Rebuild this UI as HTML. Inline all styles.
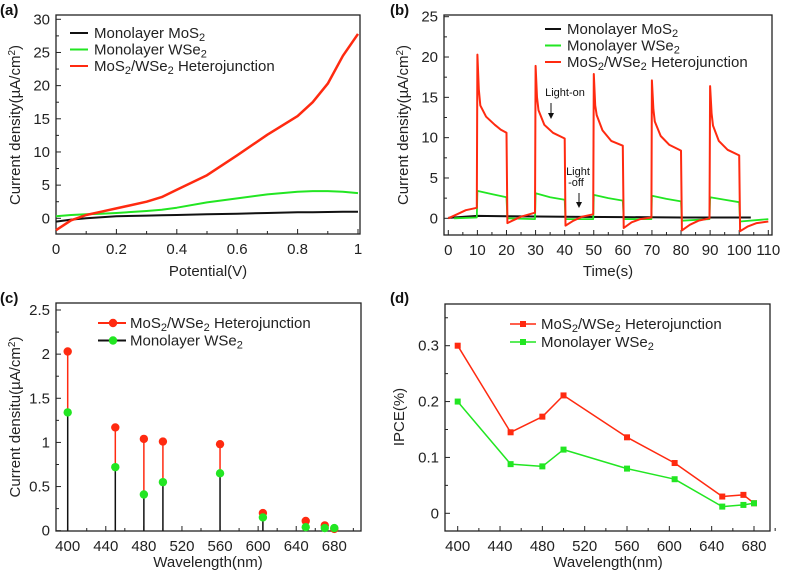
<!DOCTYPE html>
<html><head><meta charset="utf-8"><style>
body{margin:0;background:#fff}
svg{display:block;font-family:"Liberation Sans",Arial,sans-serif}
</style></head><body>
<svg id="fig" width="785" height="578" viewBox="0 0 785 578"></svg>
<script>
// Panel (a) data
const aX = [0,0.05,0.1,0.15,0.2,0.3,0.35,0.4,0.5,0.6,0.7,0.8,0.85,0.9,0.95,1.0];
const aMoS2 = [-0.5,-0.2,0,0.15,0.3,0.4,0.45,0.5,0.6,0.7,0.8,0.9,0.9,0.95,1.0,1.0];
const aWSe2 = [0.3,0.5,0.6,0.7,0.8,1.1,1.3,1.6,2.4,3.0,3.6,4.0,4.1,4.1,4.0,3.8];
const aHetero = [-1.8,-0.3,0.5,1.0,1.5,2.5,3.2,4.3,6.5,9.5,12.6,15.4,17.5,20.3,24.5,27.8];
const aYTicks = [0,5,10,15,20,25,30];
const aXTicks = [0,0.2,0.4,0.6,0.8,1];
// Panel (b) data
const bRedT = [0,3,6,9.8,10,10.5,11,13,16,18,20,20.3,22,25,29.8,30,30.5,31,33,36,40,40.3,43,46,49.8,50,50.5,51,53,56,60,60.3,63,66,69.8,70,70.5,71,73,76,80,80.3,83,86,89.8,90,90.5,91,93,96,100,100.3,103,106,110];
const bRedV = [0,0.5,1.0,1.3,20.3,16,14,12.6,11.6,11.0,10.6,-0.6,-0.3,0.2,0.7,18.9,15,13.4,11.6,10.6,9.9,-0.9,-0.3,0.2,0.5,17.9,14,12.8,10.9,9.6,9.0,-1.2,-0.5,-0.1,0.1,17.1,13.5,12,10.2,9.1,8.4,-1.5,-0.8,-0.3,0,16.4,13,11.5,9.6,8.5,7.8,-1.6,-1.0,-0.6,-0.4];
const bGreenT = [2,9.8,10,15,20,20.3,29.8,30,35,40,40.3,49.8,50,55,60,60.3,69.8,70,75,80,80.3,89.8,90,95,100,100.3,110];
const bGreenV = [0,0.1,3.4,3.0,2.6,0,-0.1,3.1,2.6,2.3,-0.1,-0.1,2.9,2.5,2.2,-0.1,-0.1,2.8,2.4,2.1,-0.3,-0.1,2.6,2.3,2.0,-0.4,-0.1];
const bBlackT = [0,10,20,40,60,80,104];
const bBlackV = [0.05,0.3,0.25,0.2,0.15,0.1,0.1];
const bYTicks = [0,5,10,15,20,25];
const bXTicks = [0,10,20,30,40,50,60,70,80,90,100,110];
// Panel (c) data
const cWave = [400,450,480,500,560,605,650,670,680];
const cHetero = [2.03,1.17,1.04,1.01,0.98,0.20,0.11,0.06,0.02];
const cWSe2 = [1.34,0.72,0.41,0.55,0.65,0.15,0.04,0.03,0.03];
const cYTicks = [0,0.5,1,1.5,2,2.5];
const cXTicks = [400,440,480,520,560,600,640,680];
// Panel (d) data
const dWave = [400,450,480,500,560,605,650,670,680];
const dHetero = [0.30,0.145,0.173,0.211,0.136,0.090,0.030,0.033,0.018];
const dWSe2 = [0.20,0.088,0.084,0.114,0.080,0.061,0.012,0.015,0.018];
const dYTicks = [0,0.1,0.2,0.3];
const dXTicks = [400,440,480,520,560,600,640,680];

const NS='http://www.w3.org/2000/svg';
const svg=document.getElementById('fig');
function el(tag,attrs,parent,text){const e=document.createElementNS(NS,tag);for(const k in attrs)e.setAttribute(k,attrs[k]);if(text!==undefined)e.textContent=text;(parent||svg).appendChild(e);return e;}
function lin(d0,d1,r0,r1){return v=>r0+(v-d0)/(d1-d0)*(r1-r0);}
const RED='#ff2a10', GREEN='#22e622';

function axes(g,box,sx,sy,xt,yt,xfmt,yfmt,xminor,yminor){
  const fr=el('rect',{x:box.l,y:box.t,width:box.r-box.l,height:box.b-box.t,fill:'none',stroke:'#222','stroke-width':1.3},g);
  
  xt.forEach(v=>{const x=sx(v);el('line',{x1:x,x2:x,y1:box.b,y2:box.b-5,stroke:'#222'},g);
    const t=el('text',{x:x,y:box.b+20,'text-anchor':'middle','font-size':15,fill:'#222'},g,xfmt(v));
    });
  xminor.forEach(v=>{const x=sx(v);el('line',{x1:x,x2:x,y1:box.b,y2:box.b-3,stroke:'#222'},g);});
  yt.forEach(v=>{const y=sy(v);el('line',{x1:box.l,x2:box.l+5,y1:y,y2:y,stroke:'#222'},g);
    const t=el('text',{x:box.l-6,y:y+5,'text-anchor':'end','font-size':15,fill:'#222'},g,yfmt(v));
    });
  yminor.forEach(v=>{const y=sy(v);if(y>box.t&&y<box.b)el('line',{x1:box.l,x2:box.l+3,y1:y,y2:y,stroke:'#222'},g);});
}
function path(g,xs,ys,sx,sy,color,w){let d='';xs.forEach((x,i)=>{d+=(i?'L':'M')+sx(x).toFixed(1)+','+sy(ys[i]).toFixed(1);});
  return el('path',{d:d,fill:'none',stroke:color,'stroke-width':w,'stroke-linejoin':'round'},g);}
function ytitle(g,x,y,html){const t=el('text',{x:0,y:0,transform:`translate(${x},${y}) rotate(-90)`,'text-anchor':'middle','font-size':15,fill:'#222'},g);t.innerHTML=html;return t;}
function xtitle(g,x,y,s){const t=el('text',{x:x,y:y,'text-anchor':'middle','font-size':15,fill:'#222'},g,s);}
function plabel(g,x,y,s){const t=el('text',{x:x,y:y,'font-size':15,'font-weight':'bold',fill:'#111'},g,s);}
function legText(g,x,y,html){const t=el('text',{x:x,y:y,'font-size':15,fill:'#222'},g);t.innerHTML=html;}
const MOS2='MoS<tspan font-size="11" dy="3">2</tspan><tspan dy="-3"></tspan>';
const WSE2='WSe<tspan font-size="11" dy="3">2</tspan><tspan dy="-3"></tspan>';
const HET='MoS<tspan font-size="11" dy="3">2</tspan><tspan dy="-3">/WSe</tspan><tspan font-size="11" dy="3">2</tspan><tspan dy="-3"> Heterojunction</tspan>';
const YT='Current density(µA/cm<tspan font-size="10" dy="-5">2</tspan><tspan dy="5">)</tspan>';

// ---- Panel a
{const g=el('g',{});
 const box={l:56,r:360,t:15,b:234};
 const sx=lin(0,1,56,358), sy=lin(0,30,218.3,19.3);
 axes(g,box,sx,sy,aXTicks,aYTicks,v=>String(v),v=>String(v),[0.1,0.3,0.5,0.7,0.9],[-2.5,2.5,7.5,12.5,17.5,22.5,27.5]);
 const l1=path(g,aX,aMoS2,sx,sy,'#111',2);
 const l2=path(g,aX,aWSe2,sx,sy,GREEN,2);
 const l3=path(g,aX,aHetero,sx,sy,RED,2.5);
 [['#111',MOS2,'Monolayer '],[GREEN,WSE2,'Monolayer '],[RED,HET,'']].forEach((e,i)=>{const y=33+i*16.5;
  el('line',{x1:70,x2:88,y1:y,y2:y,stroke:e[0],'stroke-width':2},g);legText(g,94,y+5,e[2]+e[1]);});
 ytitle(g,20,125,YT);xtitle(g,208,276,'Potential(V)');plabel(g,0,15,'(a)');}

// ---- Panel b
{const g=el('g',{});
 const box={l:444,r:772,t:15,b:235};
 const sx=lin(0,110,448.3,768.3), sy=lin(0,25,218.3,16.7);
 axes(g,box,sx,sy,bXTicks,bYTicks,v=>String(v),v=>String(v),[5,15,25,35,45,55,65,75,85,95,105],[2.5,7.5,12.5,17.5,22.5]);
 const l1=path(g,bBlackT,bBlackV,sx,sy,'#111',2);
 const l2=path(g,bGreenT,bGreenV,sx,sy,GREEN,1.8);
 const l3=path(g,bRedT,bRedV,sx,sy,RED,2);
 [['#111',MOS2,'Monolayer '],[GREEN,WSE2,'Monolayer '],[RED,HET,'']].forEach((e,i)=>{const y=29+i*16.5;
  el('line',{x1:545,x2:561,y1:y,y2:y,stroke:e[0],'stroke-width':2},g);legText(g,567,y+5,e[2]+e[1]);});
 const a1=el('text',{x:565,y:96,'text-anchor':'middle','font-size':11,fill:'#111'},g,'Light-on');
 el('line',{x1:551,x2:551,y1:103,y2:116,stroke:'#111'},g);el('path',{d:'M548,113 L551,119 L554,113Z',fill:'#111'},g);
 const a2=el('text',{x:578,y:175,'text-anchor':'middle','font-size':11,fill:'#111'},g,'Light');
 el('text',{x:576,y:186,'text-anchor':'middle','font-size':11,fill:'#111'},g,'-off');
 el('line',{x1:579,x2:579,y1:193,y2:205,stroke:'#111'},g);el('path',{d:'M576,202 L579,208 L582,202Z',fill:'#111'},g);
 ytitle(g,408,125,YT);xtitle(g,608,276,'Time(s)');plabel(g,390,15,'(b)');}

// ---- Panel c
{const g=el('g',{});
 const box={l:56,r:361,t:303,b:531};
 const sx=lin(400,680,67.7,334.3), sy=lin(0,2.5,530.7,310);
 axes(g,box,sx,sy,cXTicks,cYTicks,v=>String(v),v=>String(v),[420,460,500,540,580,620,660,700],[0.25,0.75,1.25,1.75,2.25]);
 cWave.forEach((w,i)=>{const x=sx(w);
  const s1=el('line',{x1:x,x2:x,y1:sy(0),y2:sy(cWSe2[i]),stroke:'#111','stroke-width':1.5},g);
  const s2=el('line',{x1:x,x2:x,y1:sy(cWSe2[i]),y2:sy(cHetero[i]),stroke:RED,'stroke-width':1.5},g);
  const p1=el('circle',{cx:x,cy:sy(cHetero[i]),r:4.2,fill:RED},g);
  const p2=el('circle',{cx:x,cy:sy(cWSe2[i]),r:4.2,fill:GREEN},g);});
 [[RED,HET,''],['#111',WSE2,'Monolayer ']].forEach((e,i)=>{const y=323+i*17.5;
  el('line',{x1:98,x2:126,y1:y,y2:y,stroke:e[0],'stroke-width':2},g);el('circle',{cx:113,cy:y,r:4.2,fill:i?GREEN:RED},g);legText(g,130,y+5,e[2]+e[1]);});
 ytitle(g,20,417,'Current densitu(µA/cm<tspan font-size="10" dy="-5">2</tspan><tspan dy="5">)</tspan>');xtitle(g,208,567,'Wavelength(nm)');plabel(g,0,303,'(c)');}

// ---- Panel d
{const g=el('g',{});
 const box={l:445,r:770,t:304,b:531};
 const sx=lin(400,680,457.7,754), sy=lin(0,0.3,513.3,345.7);
 axes(g,box,sx,sy,dXTicks,dYTicks,v=>String(v),v=>String(v),[420,460,500,540,580,620,660,700],[0.05,0.15,0.25,0.35]);
 const l1=path(g,dWave,dHetero,sx,sy,RED,1.5);
 const l2=path(g,dWave,dWSe2,sx,sy,GREEN,1.5);
 dWave.forEach((w,i)=>{const x=sx(w);
  const p1=el('rect',{x:x-3,y:sy(dHetero[i])-3,width:6,height:6,fill:RED},g);
  const p2=el('rect',{x:x-3,y:sy(dWSe2[i])-3,width:6,height:6,fill:GREEN},g);});
 [[RED,HET,''],[GREEN,WSE2,'Monolayer ']].forEach((e,i)=>{const y=324+i*18;
  el('line',{x1:510,x2:536,y1:y,y2:y,stroke:e[0],'stroke-width':1.5},g);el('rect',{x:520,y:y-3,width:6,height:6,fill:e[0]},g);legText(g,541,y+5,e[2]+e[1]);});
 ytitle(g,404,417,'IPCE(%)');xtitle(g,608,567,'Wavelength(nm)');plabel(g,390,303,'(d)');}
</script>
</body></html>
